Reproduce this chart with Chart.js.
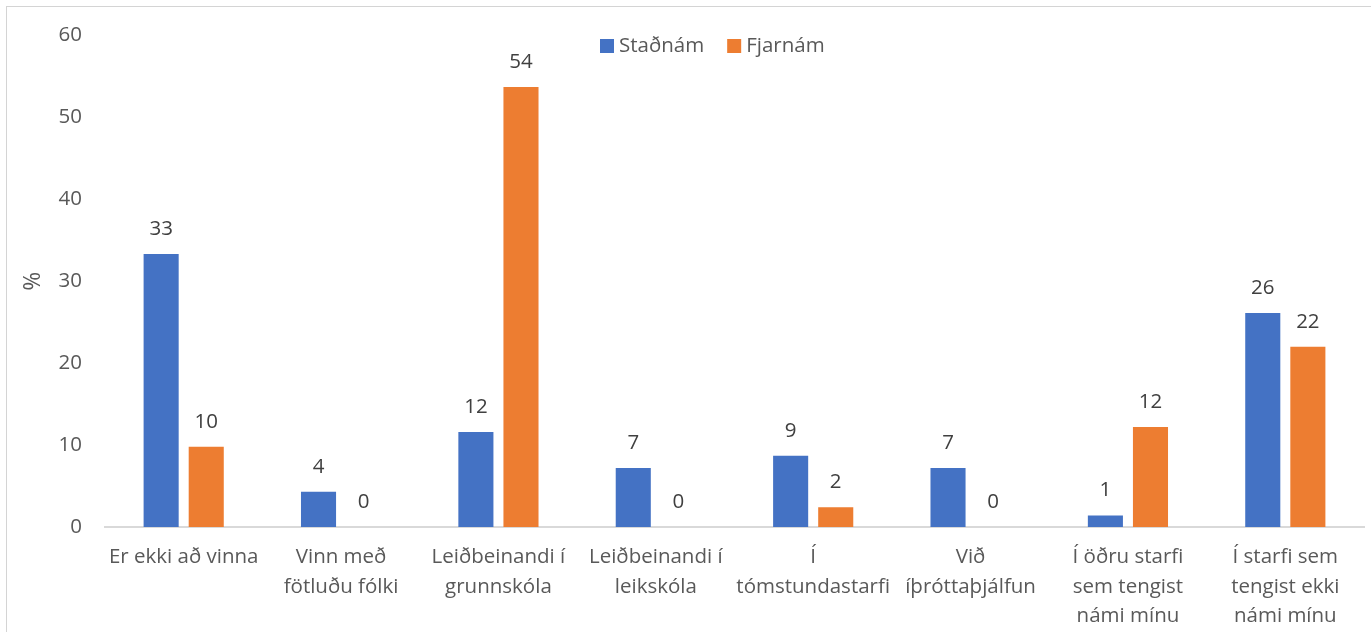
<!DOCTYPE html>
<html>
<head>
<meta charset="utf-8">
<script src="https://cdn.jsdelivr.net/npm/chart.js@4"></script>
<style>
  html, body { margin: 0; padding: 0; background: #fff; overflow: hidden; }
  #wrap { position: relative; width: 1371px; height: 632px; }
  #frame { position: absolute; left: 6px; top: 6px; width: 1400px; height: 700px; border: 1.5px solid #d4d4d4; box-sizing: border-box; }
  canvas { position: absolute; left: 0; top: 0; }
</style>
</head>
<body>
<div id="wrap">
  <div id="frame"></div>
  <canvas id="chart" width="1371" height="632"></canvas>
</div>
<script>
const categories = [
  'Er ekki að vinna',
  ['Vinn með', 'fötluðu fólki'],
  ['Leiðbeinandi í', 'grunnskóla'],
  ['Leiðbeinandi í', 'leikskóla'],
  ['Í', 'tómstundastarfi'],
  ['Við', 'íþróttaþjálfun'],
  ['Í öðru starfi', 'sem tengist', 'námi mínu'],
  ['Í starfi sem', 'tengist ekki', 'námi mínu']
];
const stadnam = [33.3, 4.3, 11.6, 7.2, 8.7, 7.2, 1.4, 26.1];
const fjarnam = [9.8, 0, 53.7, 0, 2.4, 0, 12.2, 22.0];
const seriesNames = ['Staðnám', 'Fjarnám'];
const seriesColors = ['#4472C4', '#ED7D31'];
const yTicks = [0, 10, 20, 30, 40, 50, 60];

const FONT = '"Open Sans", "Noto Sans", sans-serif';
const SIZE = 20.5;
const TEXT = '#595959';

const valueLabels = {
  id: 'valueLabels',
  afterDatasetsDraw(chart) {
    const ctx = chart.ctx;
    ctx.save();
    ctx.font = `${SIZE}px ${FONT}`;
    ctx.fillStyle = '#404040';
    ctx.textAlign = 'center';
    ctx.textBaseline = 'middle';
    chart.data.datasets.forEach((ds, i) => {
      chart.getDatasetMeta(i).data.forEach((bar, j) => {
        ctx.fillText(String(Math.round(ds.data[j])), bar.x, bar.y - 25);
      });
    });
    ctx.restore();
  }
};

const insideLegend = {
  id: 'insideLegend',
  afterDraw(chart) {
    const ctx = chart.ctx;
    ctx.save();
    ctx.font = `${SIZE}px ${FONT}`;
    ctx.textBaseline = 'middle';
    ctx.textAlign = 'left';
    let x = 600;
    const y = 46;
    chart.data.datasets.forEach(ds => {
      ctx.fillStyle = ds.backgroundColor;
      ctx.fillRect(x, y - 7, 14, 14);
      ctx.fillStyle = TEXT;
      ctx.fillText(ds.label, x + 19, y);
      x += 19 + ctx.measureText(ds.label).width + 23;
    });
    ctx.restore();
  }
};

new Chart(document.getElementById('chart'), {
  type: 'bar',
  data: {
    labels: categories,
    datasets: [
      { label: seriesNames[0], data: stadnam, backgroundColor: seriesColors[0] },
      { label: seriesNames[1], data: fjarnam, backgroundColor: seriesColors[1] }
    ]
  },
  options: {
    responsive: false,
    animation: false,
    categoryPercentage: 0.573,
    barPercentage: 0.778,
    layout: { padding: { left: 20, top: 33, right: 7, bottom: 0 } },
    plugins: {
      legend: { display: false },
      tooltip: { enabled: false }
    },
    scales: {
      x: {
        grid: { display: false, drawTicks: false },
        border: { display: true, color: '#d9d9d9', width: 2 },
        ticks: {
          color: TEXT,
          font: { family: FONT, size: SIZE, lineHeight: 1.42 },
          padding: 16,
          maxRotation: 0,
          autoSkip: false
        },
        afterFit(scale) { scale.height = 105; }
      },
      y: {
        min: 0,
        max: 60,
        afterBuildTicks(scale) { scale.ticks = yTicks.map(v => ({ value: v })); },
        grid: { display: false, drawTicks: false },
        border: { display: false },
        ticks: {
          color: TEXT,
          font: { family: FONT, size: SIZE },
          padding: 23
        },
        title: {
          display: true,
          text: '%',
          color: TEXT,
          font: { family: FONT, size: 23 },
          padding: { top: 0, bottom: 4 }
        },
        afterFit(scale) { scale.width = 85; }
      }
    }
  },
  plugins: [valueLabels, insideLegend]
});
</script>
</body>
</html>
